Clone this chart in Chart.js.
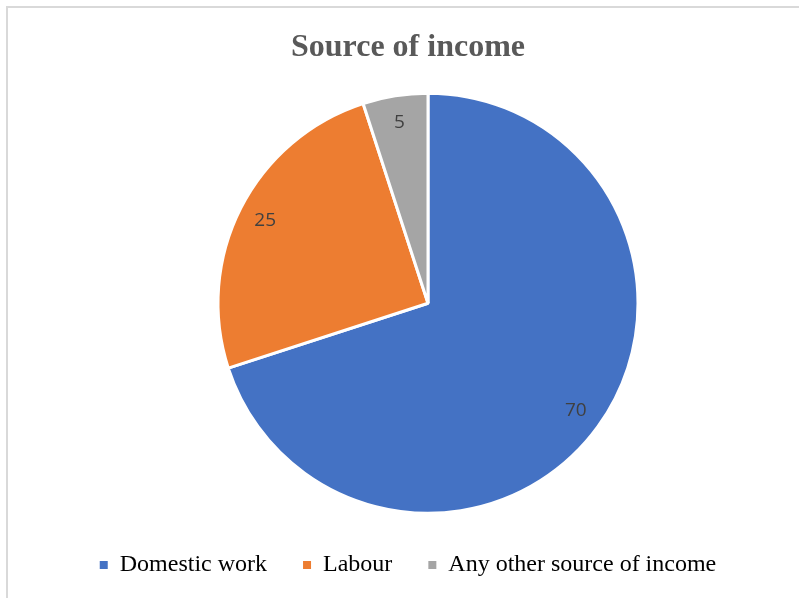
<!DOCTYPE html>
<html>
<head>
<meta charset="utf-8">
<script src="https://cdn.jsdelivr.net/npm/chart.js@4"></script>
<style>
  html, body { margin: 0; padding: 0; background: #fff; overflow: hidden; }
  #wrap { position: relative; width: 799px; height: 598px; }
  #frame { position: absolute; left: 6px; top: 6px; right: -10px; bottom: -10px;
           border-left: 2px solid #d9d9d9; border-top: 2px solid #d9d9d9; }
  canvas { position: absolute; left: 0; top: 0; }
</style>
</head>
<body>
<div id="wrap">
  <div id="frame"></div>
  <canvas id="pieChart" width="799" height="587"></canvas>
</div>
<script>
const categories = ['Domestic work', 'Labour', 'Any other source of income'];
const values = [70, 25, 5];
const colors = ['#4472C4', '#ED7D31', '#A5A5A5'];

// move the pie right a bit, title and legend stay put
const shiftPie = {
    id: 'shiftPie',
    afterLayout(chart) {
        chart.chartArea.left += 20;
        chart.chartArea.right += 20;
    }
};

// value labels inside the slices
const sliceLabels = {
    id: 'sliceLabels',
    afterDatasetsDraw(chart) {
        const ctx = chart.ctx;
        const meta = chart.getDatasetMeta(0);
        ctx.save();
        ctx.font = '19px "Open Sans", sans-serif';
        ctx.fillStyle = '#404040';
        ctx.textAlign = 'center';
        ctx.textBaseline = 'middle';
        meta.data.forEach((arc, i) => {
            const p = arc.getProps(['x', 'y', 'startAngle', 'endAngle', 'outerRadius'], true);
            const mid = (p.startAngle + p.endAngle) / 2;
            const r = p.outerRadius * 0.87;
            ctx.fillText(String(values[i]), p.x + Math.cos(mid) * r, p.y + Math.sin(mid) * r);
        });
        ctx.restore();
    }
};

const defaultLabels = Chart.overrides.pie.plugins.legend.labels.generateLabels;

new Chart(document.getElementById('pieChart').getContext('2d'), {
    type: 'pie',
    data: {
        labels: categories,
        datasets: [{
            data: values,
            backgroundColor: colors,
            borderColor: '#ffffff',
            borderWidth: 3,
            radius: 210,
            clip: false
        }]
    },
    options: {
        responsive: false,
        animation: false,
        devicePixelRatio: 1,
        layout: { padding: { left: 17 } },
        plugins: {
            title: {
                display: true,
                text: 'Source of income',
                color: '#595959',
                font: { family: '"Liberation Serif", "Times New Roman", serif', size: 32, weight: 'bold' },
                padding: { top: 29, bottom: 22 }
            },
            legend: {
                position: 'bottom',
                labels: {
                    color: '#000000',
                    boxWidth: 8,
                    boxHeight: 8,
                    padding: 36,
                    font: { family: '"Liberation Serif", "Times New Roman", serif', size: 24 },
                    generateLabels(chart) {
                        // plain squares, no white outline
                        return defaultLabels(chart).map(l => ({ ...l, lineWidth: 0 }));
                    }
                }
            },
            tooltip: { enabled: false }
        }
    },
    plugins: [shiftPie, sliceLabels]
});
</script>
</body>
</html>
